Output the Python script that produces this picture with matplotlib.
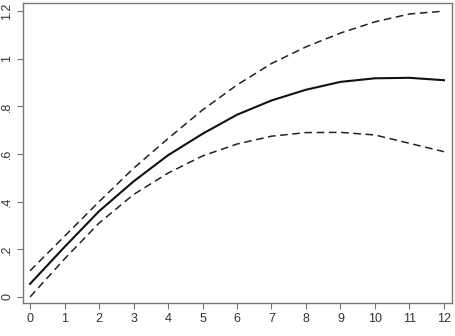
import numpy as np
import matplotlib
matplotlib.use("Agg")
import matplotlib.pyplot as plt

plt.rcParams['font.family'] = ['Liberation Sans', 'DejaVu Sans']

# --- Data ---
x = [0, 1, 2, 3, 4, 5, 6, 7, 8, 9, 10, 11, 12]
estimate = [0.055, 0.21, 0.36, 0.485, 0.595, 0.685, 0.765, 0.825, 0.87, 0.903, 0.918, 0.92, 0.91]
upper = [0.11, 0.255, 0.40, 0.54, 0.665, 0.785, 0.89, 0.98, 1.05, 1.108, 1.155, 1.188, 1.2]
lower = [0.0, 0.16, 0.31, 0.43, 0.52, 0.592, 0.642, 0.675, 0.69, 0.691, 0.68, 0.645, 0.61]
xticks = list(range(13))
yticks = [0, 0.2, 0.4, 0.6, 0.8, 1.0, 1.2]
ytick_labels = ['0', '.2', '.4', '.6', '.8', '1', '1.2']

fig = plt.figure(figsize=(4.56, 3.36), dpi=100)
ax = fig.add_axes([0.05, 0.097, 0.941, 0.894])

ax.plot(x, estimate, color='#111111', lw=1.5)
ax.plot(x, upper, color='#222222', lw=1.1, ls=(0, (5, 3)))
ax.plot(x, lower, color='#222222', lw=1.1, ls=(0, (5, 3)))

ax.set_xlim(-0.21, 12.23)
ax.set_ylim(-0.027, 1.234)
ax.set_xticks(xticks)
ax.set_yticks(yticks)
ax.set_yticklabels(ytick_labels, rotation=90, va='center')

for s in ax.spines.values():
    s.set_color('#777777')
    s.set_linewidth(1.0)
ax.tick_params(direction='out', length=4, width=0.8, color='#777777',
               labelsize=9, labelcolor='#333333', pad=3)

fig.savefig('out.png', dpi=100)
